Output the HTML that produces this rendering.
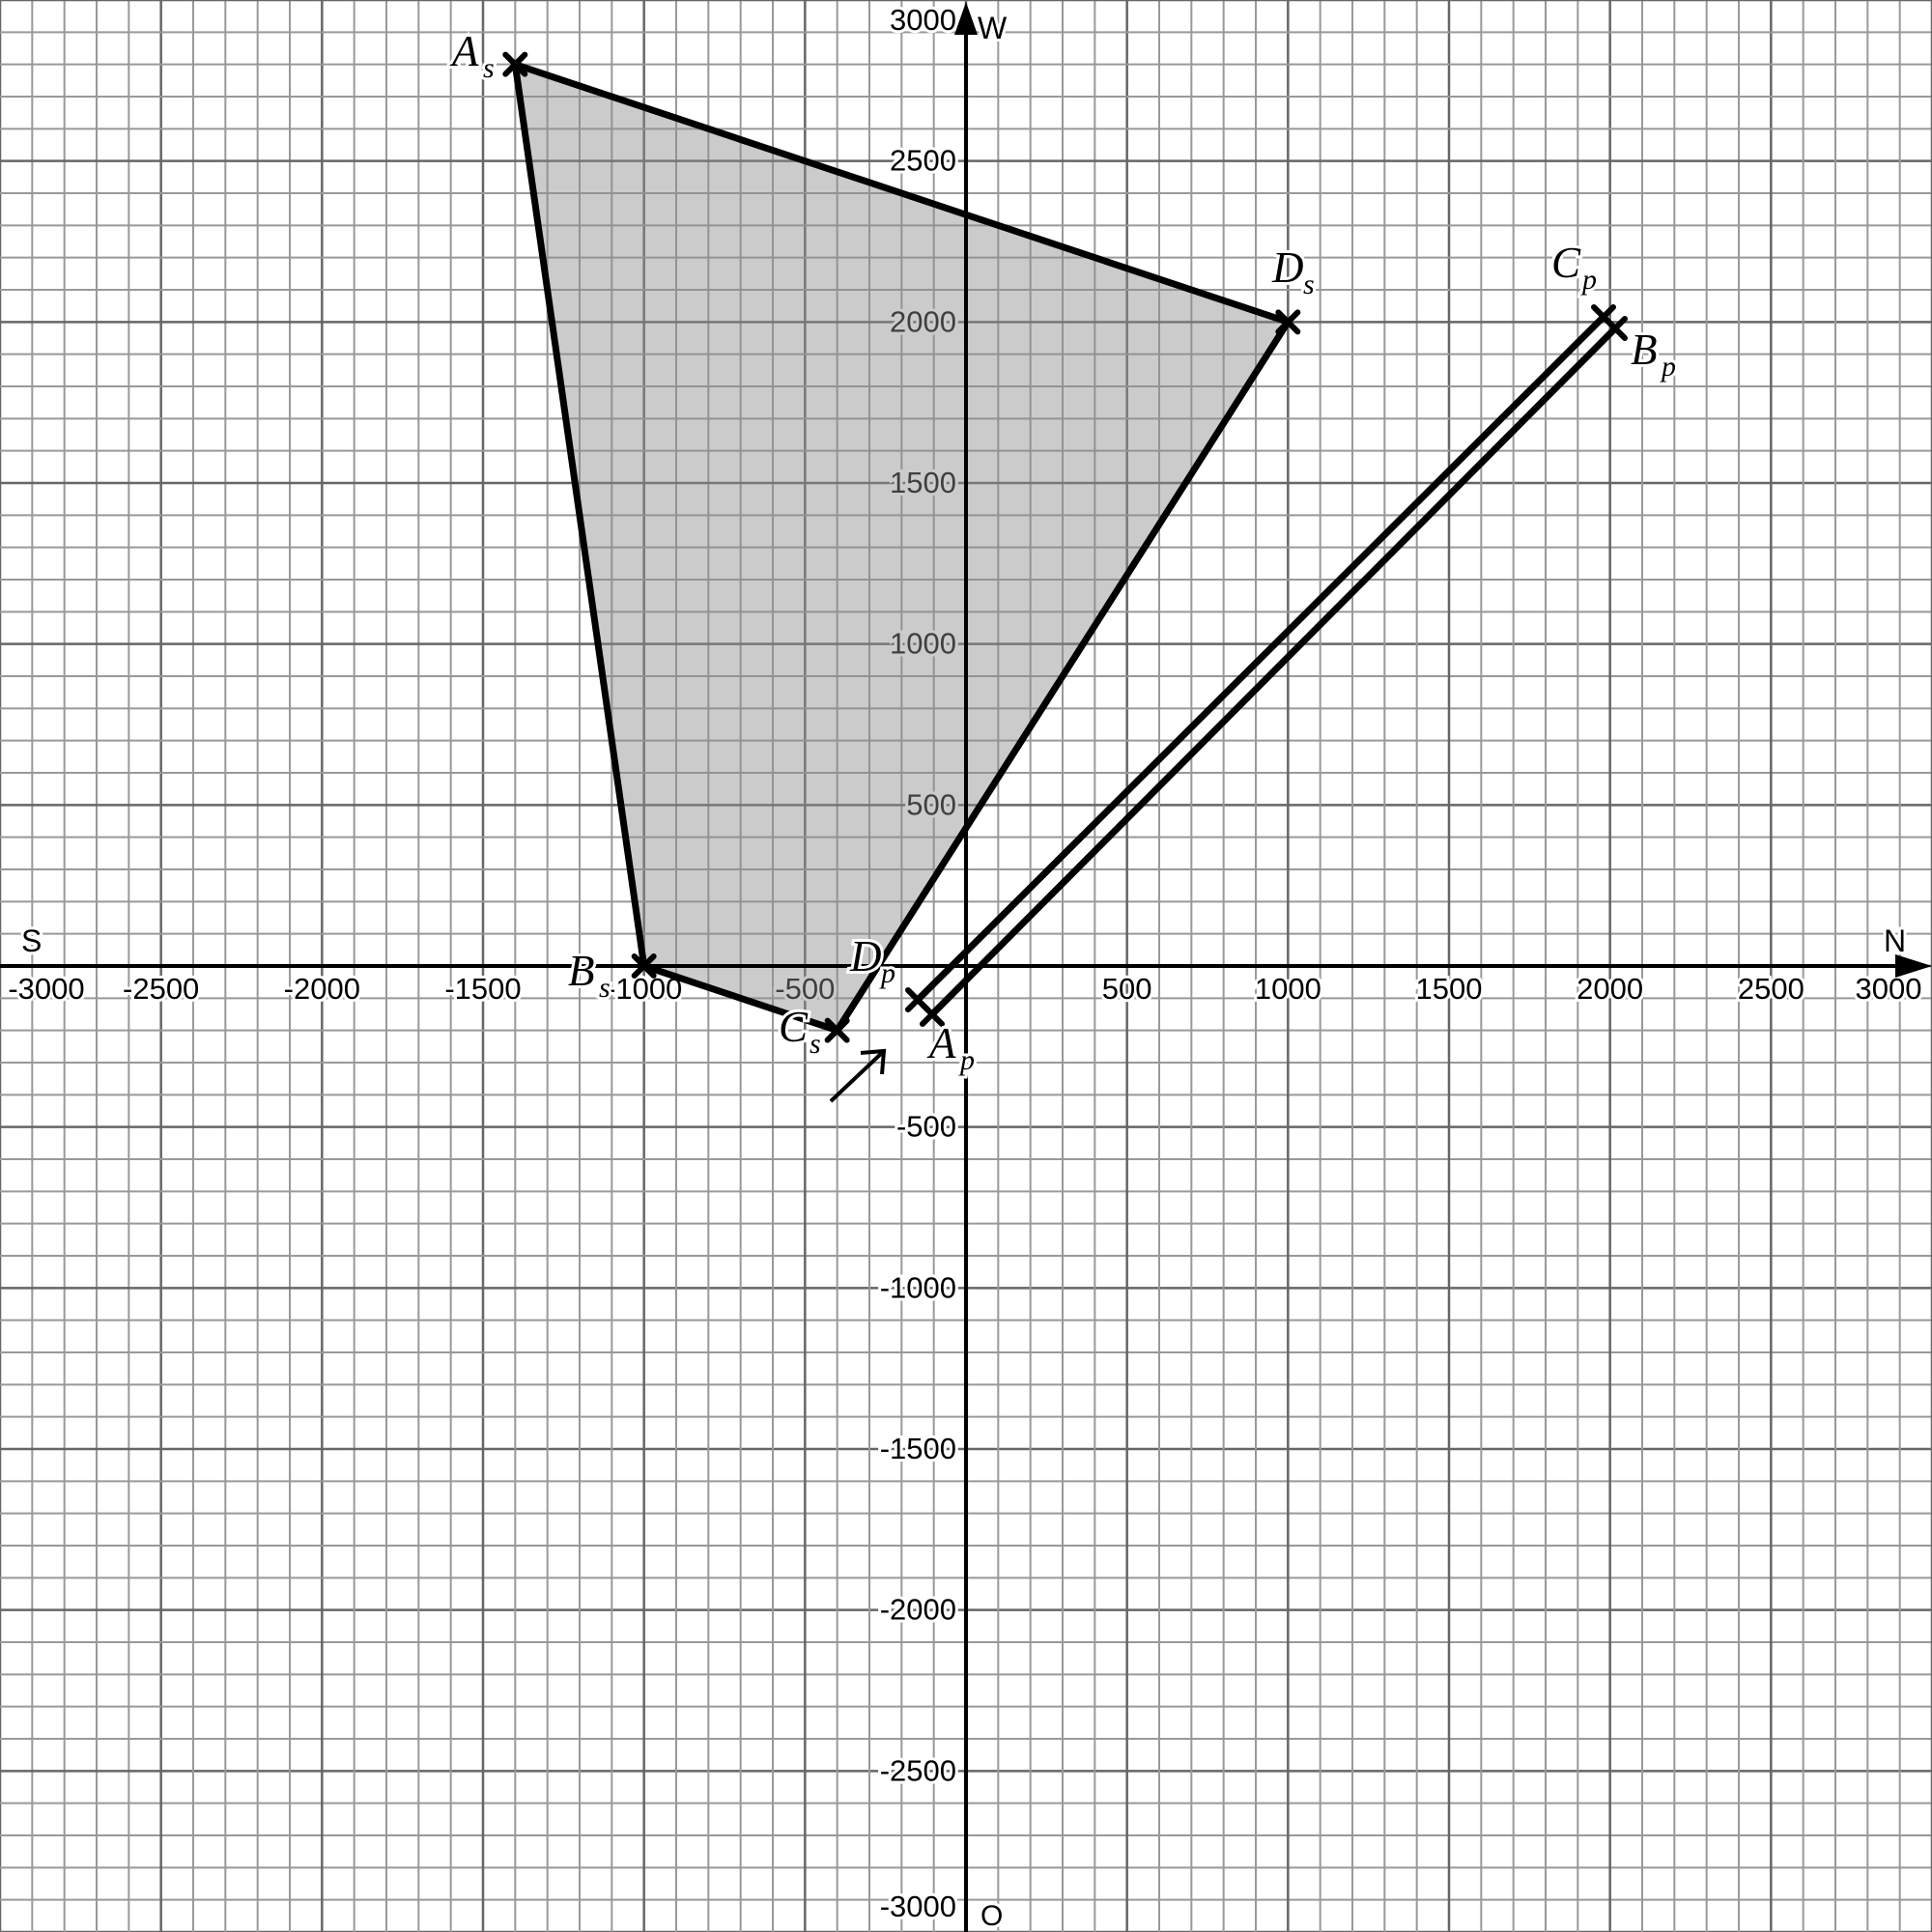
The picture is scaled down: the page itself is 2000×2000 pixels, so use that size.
<!DOCTYPE html>
<html><head><meta charset="utf-8"><style>
html,body{margin:0;padding:0;background:#fff}
svg{display:block}
text{font-family:"Liberation Sans",sans-serif}
.it{font-family:"Liberation Serif",serif;font-style:italic}
</style></head><body>
<svg id="chart" width="2000" height="2000" viewBox="0 0 2000 2000">
<g id="grid"></g>
<g id="ticks"></g>
<g id="shapes"></g>
<g id="axes"></g>
<g id="labels"></g>
</svg>
<script>
const xTicks=[-3000,-2500,-2000,-1500,-1000,-500,500,1000,1500,2000,2500,3000];
const yTicks=[3000,2500,2000,1500,1000,500,-500,-1000,-1500,-2000,-2500,-3000];
const polyX=[-1400,-1000,-400,1000];
const polyY=[2800,0,-200,2000];
const polyNames=['A','B','C','D'];
const stripAX=[-150,1980];
const stripAY=[-105,2016];
const stripBX=[-105,2016];
const stripBY=[-150,1980];
const arrowX=[-420,-255];
const arrowY=[-420,-264];
const NS='http://www.w3.org/2000/svg';
const sx=v=>1000+v/3, sy=v=>1000-v/3;
function mk(t,p,a){const e=document.createElementNS(NS,t);for(const k in a)e.setAttribute(k,a[k]);p.appendChild(e);return e;}
const grid=document.getElementById('grid');
for(let v=-3000;v<=3000;v+=100){
 const major=v%500===0;
 const c=major?'#666':'#999', w=major?2.5:2;
 let l=mk('line',grid,{x1:sx(v),x2:sx(v),y1:0,y2:2000,stroke:c,'stroke-width':w});
 
 
 l=mk('line',grid,{x1:0,x2:2000,y1:sy(v),y2:sy(v),stroke:c,'stroke-width':w});
 
 
}
const ticks=document.getElementById('ticks');
xTicks.forEach(v=>{
 let x=sx(v); if(v===-3000)x=48; if(v===3000)x=1955;
 const t=mk('text',ticks,{x:x,y:1034,'font-size':31,'text-anchor':'middle',fill:'#000',stroke:'#fff','stroke-width':6,'paint-order':'stroke'});
 t.textContent=v;
 
 
});
yTicks.forEach(v=>{
 let y=sy(v)+10; if(v===3000)y=31; if(v===-3000)y=1984;
 const t=mk('text',ticks,{x:990,y:y,'font-size':31,'text-anchor':'end',fill:'#000',stroke:'#fff','stroke-width':6,'paint-order':'stroke'});
 t.textContent=v;
 
 
});
const shapes=document.getElementById('shapes');
const pts=polyX.map((x,i)=>sx(x)+','+sy(polyY[i])).join(' ');
const poly=mk('polygon',shapes,{points:pts,fill:'rgba(140,140,140,0.45)',stroke:'#000','stroke-width':7,'stroke-linejoin':'round'});


function cross(x,y){
 const g=mk('g',shapes,{});
 
 
 mk('path',g,{d:`M${x-10},${y-10}L${x+10},${y+10}M${x-10},${y+10}L${x+10},${y-10}`,stroke:'#000','stroke-width':6,'stroke-linecap':'round'});
}
polyX.forEach((x,i)=>cross(sx(x),sy(polyY[i])));
[[stripAX,stripAY],[stripBX,stripBY]].forEach(([X,Y])=>{
 const l=mk('line',shapes,{x1:sx(X[0]),y1:sy(Y[0]),x2:sx(X[1]),y2:sy(Y[1]),stroke:'#000','stroke-width':7});
 
 
 cross(sx(X[0]),sy(Y[0]));cross(sx(X[1]),sy(Y[1]));
});
const ar=mk('g',shapes,{});


const ax1=sx(arrowX[0]),ay1=sy(arrowY[0]),ax2=sx(arrowX[1]),ay2=sy(arrowY[1]);
mk('line',ar,{x1:ax1,y1:ay1,x2:ax2,y2:ay2,stroke:'#000','stroke-width':4});
mk('path',ar,{d:`M${ax2-24},${ay2+2}L${ax2},${ay2}L${ax2-2},${ay2+24}`,fill:'none',stroke:'#000','stroke-width':4});
const axes=document.getElementById('axes');
let a=mk('line',axes,{x1:0,y1:1000,x2:1980,y2:1000,stroke:'#000','stroke-width':4});


a=mk('polygon',axes,{points:'2000,1000 1962,988 1962,1012',fill:'#000'});


a=mk('line',axes,{x1:1000,y1:2000,x2:1000,y2:20,stroke:'#000','stroke-width':4});


a=mk('polygon',axes,{points:'1000,2 988,36 1012,36',fill:'#000'});


const labels=document.getElementById('labels');
function txt(s,x,y,sz,cls,name){const t=mk('text',labels,{x:x,y:y,'font-size':sz,fill:'#000',stroke:'#fff','stroke-width':6,'paint-order':'stroke'});if(cls)t.setAttribute('class',cls);t.textContent=s;return t;}
txt('S',22,985,32,null,'axis-label-s');
txt('N',1950,985,32,null,'axis-label-n');
txt('W',1012,40,32,null,'axis-label-w');
txt('O',1015,1993,30,null,'axis-label-o');
function sub(main,s,x,y,name){txt(main,x,y,45,'it',name);txt(s,x+32,y+12,30,'it',name+'-sub');}
sub('A','s',468,68,'label-a-s');
sub('B','s',588,1020,'label-b-s');
sub('C','s',806,1078,'label-c-s');
sub('D','s',1317,292,'label-d-s');
sub('C','p',1606,287,'label-c-p');
sub('B','p',1688,377,'label-b-p');
sub('D','p',880,1005,'label-d-p');
sub('A','p',962,1095,'label-a-p');
</script>
</body></html>
